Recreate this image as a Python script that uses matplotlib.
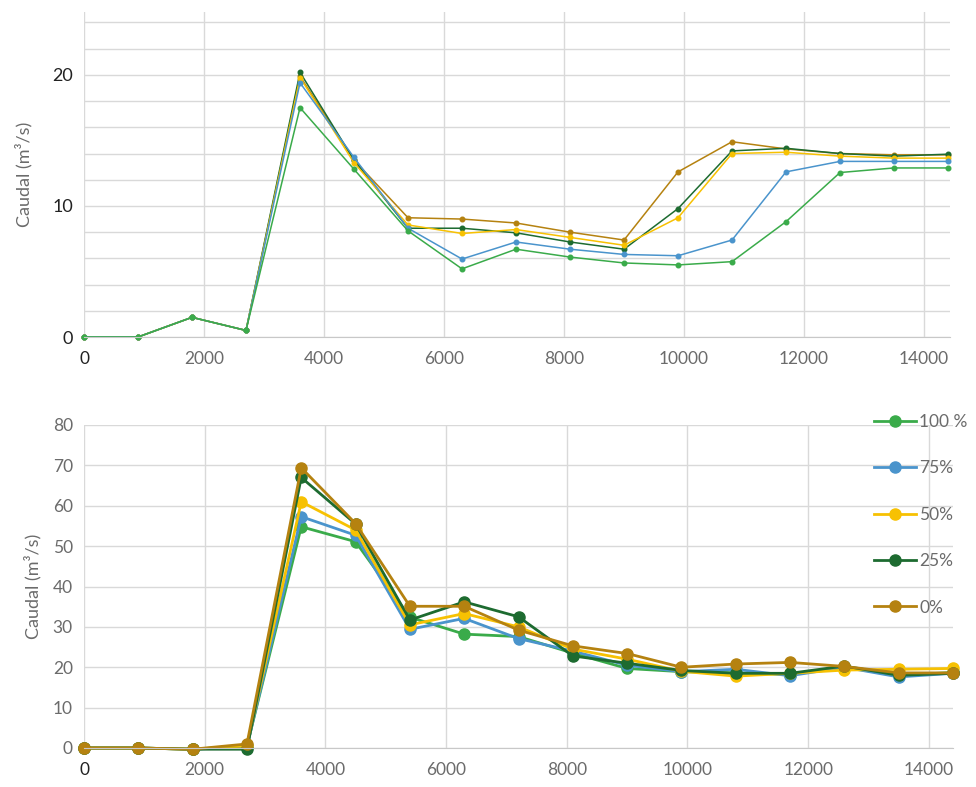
import matplotlib
matplotlib.use("Agg")
import matplotlib.pyplot as plt

plt.rcParams['font.family'] = ['Lato', 'DejaVu Sans']

# Distance along the channel (m)
dist = [0, 900, 1800, 2700, 3600, 4500, 5400, 6300, 7200, 8100,
        9000, 9900, 10800, 11700, 12600, 13500, 14400]

labels = ['100 %', '75%', '50%', '25%', '0%']
colors = ['#3aab4a', '#4a94cc', '#f7c102', '#1d6b30', '#b58210']

# Top chart: caudal (m3/s)
top_100 = [0, 0, 1.5, 0.5, 17.5, 12.8, 8.1, 5.2, 6.7, 6.1, 5.65, 5.5, 5.75, 8.8, 12.55, 12.9, 12.9]
top_75 = [0, 0, 1.5, 0.5, 19.4, 13.7, 8.3, 5.95, 7.25, 6.7, 6.3, 6.2, 7.4, 12.6, 13.4, 13.4, 13.4]
top_50 = [0, 0, 1.5, 0.5, 19.8, 13.3, 8.55, 7.9, 8.2, 7.6, 7.0, 9.1, 14.0, 14.1, 13.8, 13.65, 13.65]
top_25 = [0, 0, 1.5, 0.5, 20.2, 13.5, 8.3, 8.3, 7.95, 7.25, 6.7, 9.8, 14.2, 14.4, 14.0, 13.8, 13.95]
top_0 = [0, 0, 1.5, 0.5, 19.9, 13.5, 9.1, 9.0, 8.7, 8.0, 7.4, 12.6, 14.9, 14.35, 14.0, 13.9, 13.9]

# Bottom chart: caudal (m3/s)
bot_100 = [0, 0, -0.3, 0.5, 54.8, 51.1, 32.4, 28.2, 27.6, 23.5, 19.7, 18.9, 18.6, 18.2, 20.0, 18.0, 18.7]
bot_75 = [0, 0, -0.3, 0.3, 57.3, 52.7, 29.4, 32.1, 27.1, 24.0, 20.5, 18.9, 19.5, 17.9, 20.0, 17.6, 18.5]
bot_50 = [0, 0, -0.3, 0.5, 61.0, 54.0, 30.5, 33.3, 30.0, 24.5, 22.0, 19.0, 17.8, 18.5, 19.3, 19.5, 19.7]
bot_25 = [0, 0, -0.3, -0.3, 67.0, 55.5, 31.7, 36.2, 32.5, 22.8, 21.0, 19.2, 18.5, 18.5, 20.3, 18.0, 18.5]
bot_0 = [0, 0, -0.3, 1.0, 69.4, 55.6, 35.1, 35.1, 29.2, 25.3, 23.4, 20.0, 20.8, 21.2, 20.2, 18.6, 18.6]

top_series = [top_100, top_75, top_50, top_25, top_0]
bot_series = [bot_100, bot_75, bot_50, bot_25, bot_0]

grid_col = '#d9d9d9'
gray_txt = '#6b6b6b'

fig = plt.figure(figsize=(9.76, 7.87), dpi=100)

# ---- top chart ----
ax1 = fig.add_axes([84 / 976, 450 / 787, 866 / 976, 325 / 787])
# drawn in reverse so the 100 % line sits on top at the start
for vals, c in list(zip(top_series, colors))[::-1]:
    ax1.plot(dist, vals, color=c, lw=1.1, marker='o', ms=3.3, clip_on=False)
ax1.set_xlim(0, 14433)
ax1.set_ylim(0, 24.8)
ax1.set_yticks([0, 10, 20])
ax1.set_yticks(range(0, 25, 2), minor=True)
ax1.set_xticks(range(0, 14001, 2000))
ax1.grid(True, which='both', color=grid_col, lw=1)
ax1.tick_params(length=0, which='both', labelsize=13, colors='#222222', pad=8)
ax1.tick_params(axis='x', pad=10, labelsize=12.5)
for lab in ax1.get_xticklabels()[1:]:
    lab.set_color(gray_txt)
ax1.set_ylabel('Caudal (m³/s)', fontsize=13, color=gray_txt, labelpad=14)

# ---- bottom chart ----
ax2 = fig.add_axes([84 / 976, 39 / 787, 869 / 976, 323 / 787])
for vals, c, lab in zip(bot_series, colors, labels):
    ax2.plot(dist, vals, color=c, lw=2.0, marker='o', ms=8, label=lab, clip_on=False)
ax2.set_xlim(0, 14400)
ax2.set_ylim(0, 80)
ax2.set_yticks(range(0, 81, 10))
ax2.set_xticks(range(0, 14001, 2000))
ax2.grid(True, color=grid_col, lw=1)
ax2.tick_params(length=0, labelsize=12.5, colors=gray_txt, pad=8)
ax2.tick_params(axis='x', pad=10)
ax2.get_xticklabels()[0].set_color('#222222')
ax2.set_ylabel('Caudal (m³/s)', fontsize=13, color=gray_txt, labelpad=8)

for ax in (ax1, ax2):
    ax.set_axisbelow(True)
    for s in ('top', 'right', 'left'):
        ax.spines[s].set_visible(False)
    ax.spines['bottom'].set_color('#c8c8c8')

leg = fig.legend(loc='upper left', bbox_to_anchor=(874 / 976, (787 - 414) / 787),
                 frameon=False, fontsize=12.5, handlelength=2.4, handletextpad=0.2,
                 labelspacing=1.75, borderpad=0, borderaxespad=0)
for t in leg.get_texts():
    t.set_color(gray_txt)

fig.savefig('out.png', dpi=100)
